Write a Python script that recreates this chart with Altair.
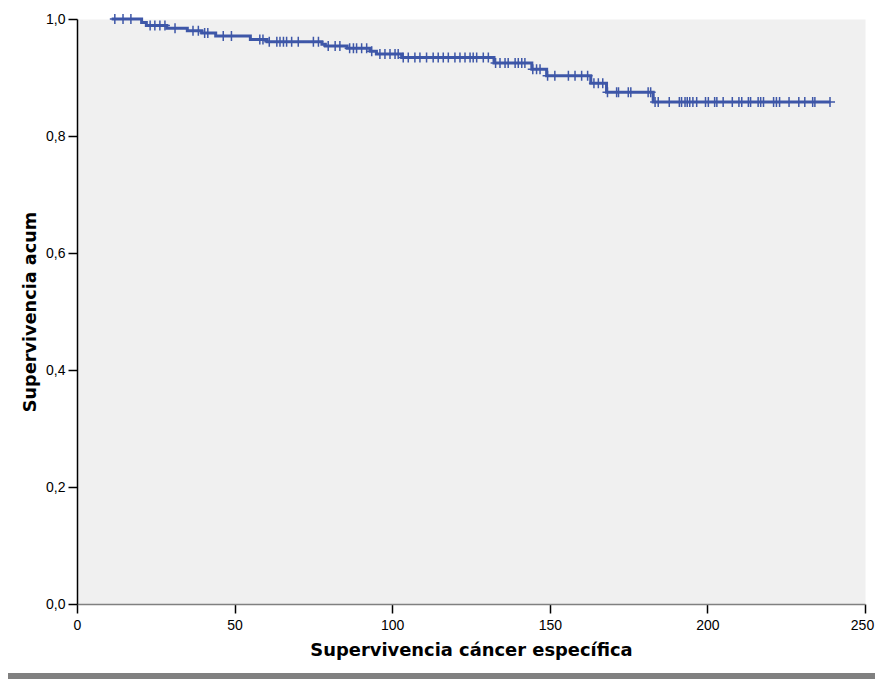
import altair as alt
import pandas as pd
import numpy as np

# Kaplan-Meier step curve (time, cumulative survival)
step_times = [11, 20.5, 22, 28.5, 35, 39.6, 44, 55, 60.3, 77.7, 78.8, 85.7, 93, 95, 103,
              132.3, 144.3, 149, 163, 168, 182.8, 239]
step_surv = [1.0, 0.994, 0.989, 0.984, 0.980, 0.976, 0.971, 0.965, 0.961, 0.957, 0.954,
             0.950, 0.945, 0.940, 0.934, 0.925, 0.914, 0.903, 0.890, 0.875, 0.858, 0.858]

# censored observations (time)
censor_times = [12, 14.6, 17.1, 23.2, 24.7, 26.3, 27.9, 31.1, 36.8, 38.5, 40.5, 41.5, 46.4,
                49, 58, 59, 61, 63.4, 64.4, 65.5, 66.5, 68.1, 70.2, 75, 76.6, 79.7, 81.9,
                83.4, 86.5, 87.7, 88.7, 90.3, 91.9, 93.5, 96.1, 97.7, 99.3, 100.9, 101.9,
                103.5, 105.1, 107.2, 108.8, 110.9, 113, 114.6, 116.2, 117.8, 119.9, 121.5,
                123.1, 124.7, 125.7, 126.8, 128.9, 130.5, 132.8, 134.2, 135.8, 136.8, 139,
                140, 141.1, 142.1, 144.6, 145.8, 146.9, 149.3, 151.6, 155.9, 158, 160.1,
                162.0, 164, 165.4, 166.8, 168.3, 171.2, 171.8, 174.9, 175.7, 181.2, 182,
                183.4, 184.4, 187.9, 191.1, 191.8, 192.9, 193.6, 194.4, 195.4, 196.6,
                199.4, 200.3, 202.3, 203.0, 205, 207.9, 210, 210.9, 213, 213.7, 216.1,
                216.9, 217.8, 221.0, 221.9, 222.9, 225.9, 229, 230.9, 233.4, 234.1, 238.9]

x_ticks = [0, 50, 100, 150, 200, 250]
y_ticks = [0.0, 0.2, 0.4, 0.6, 0.8, 1.0]

x_title = "Supervivencia cáncer específica"
y_title = "Supervivencia acum"

curve = pd.DataFrame({"t": step_times, "s": step_surv})
idx = np.searchsorted(np.array(step_times), np.array(censor_times), side="right") - 1
cens = pd.DataFrame({"t": censor_times, "s": [step_surv[i] for i in idx]})

BLUE = "#3e57a8"
W, H = 788, 585

xs = alt.Scale(domain=[0, 250], nice=False, zero=False)
ys = alt.Scale(domain=[0, 1], nice=False)

xaxis = alt.Axis(values=x_ticks, title=x_title, grid=False, domainColor="#808080",
                 domainWidth=1.5, tickColor="#000000", tickSize=9, tickWidth=1.5,
                 labelFont="Liberation Sans", labelFontSize=14, labelColor="#000000",
                 labelPadding=5, labelFlush=False, labelOverlap=False,
                 labelOffset={"expr": "datum.value == 250 ? -3 : 0"},
                 titleFont="DejaVu Sans", titleFontSize=17.9,
                 titleFontWeight="bold", titleColor="#000000", titleBaseline="middle",
                 titleY=46, titleX=W / 2, titleAlign="center")
yaxis = alt.Axis(values=y_ticks, title=y_title, grid=False, domainColor="#000000",
                 domainWidth=1.5, tickColor="#000000", tickSize=9, tickWidth=1.5,
                 labelFont="Liberation Sans", labelFontSize=14, labelColor="#000000",
                 labelPadding=3, labelFlush=False, labelOverlap=False,
                 labelExpr="replace(format(datum.value, '.1f'), '.', ',')",
                 titleFont="DejaVu Sans", titleFontSize=17.7, titleFontWeight="bold",
                 titleColor="#000000", titleAngle=270, titleBaseline="middle",
                 titleAlign="center", titleX=-47, titleY=H / 2)

line = alt.Chart(curve).mark_line(interpolate="step-after", color=BLUE,
                                  strokeWidth=3).encode(
    x=alt.X("t:Q", scale=xs, axis=xaxis),
    y=alt.Y("s:Q", scale=ys, axis=yaxis),
)

plus = alt.Chart(cens).mark_point(shape="M-1,0L1,0M0,-1L0,1", size=100, color=BLUE,
                                  strokeWidth=1.5, filled=False, opacity=1).encode(
    x=alt.X("t:Q", scale=xs),
    y=alt.Y("s:Q", scale=ys),
)

bar = alt.Chart(pd.DataFrame({"k": [0]})).mark_rect(color="#808080", clip=False).encode(
    x=alt.value(-69), x2=alt.value(800), y=alt.value(654), y2=alt.value(664)
)

chart = alt.layer(line, plus, bar).properties(
    width=W, height=H,
    autosize=alt.AutoSizeParams(type="none"),
    padding={"left": 69, "top": 11, "right": 10, "bottom": 75},
    background="white",
).configure_view(fill="#f0f0f0", strokeOpacity=0)

chart.save("out.html", embed_options={"renderer": "svg", "actions": False})
